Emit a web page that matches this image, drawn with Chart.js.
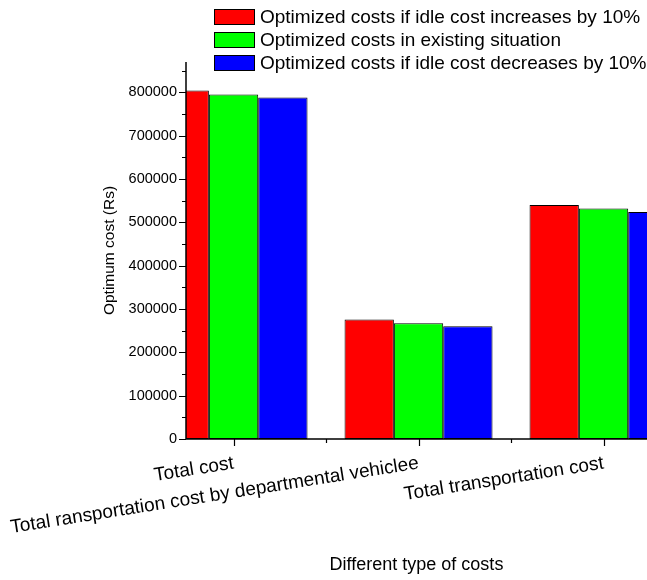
<!DOCTYPE html>
<html>
<head>
<meta charset="utf-8">
<script src="https://cdn.jsdelivr.net/npm/chart.js@4.4.1/dist/chart.umd.min.js"></script>
<style>
  html, body { margin: 0; padding: 0; background: #fff; overflow: hidden; }
  canvas { display: block; }
</style>
</head>
<body>
<canvas id="myChart" width="647" height="580"></canvas>
<script>
// setup block
const categories = [
  "Total cost",
  "Total ransportation cost by departmental vehiclee",
  "Total transportation cost",
];
const idleUp = [804000, 276000, 540000];
const existing = [795000, 267000, 532000];
const idleDown = [788000, 260000, 524000];
const seriesLabels = [
  "Optimized costs if idle cost increases by 10%",
  "Optimized costs in existing situation",
  "Optimized costs if idle cost decreases by 10%",
];
const seriesColors = ["#ff0000", "#00ff00", "#0000ff"];
const yTickValues = [0, 100000, 200000, 300000, 400000, 500000, 600000, 700000, 800000];
const yMax = 870000;
const yStep = 100000;

Chart.defaults.font.family = "Arial, 'Liberation Sans', sans-serif";
Chart.defaults.color = "#000";

const toPoints = (values) => values.map((v, i) => ({ x: i, y: v }));

const data = {
  datasets: [idleUp, existing, idleDown].map((values, i) => ({
    label: seriesLabels[i],
    data: toPoints(values),
    backgroundColor: seriesColors[i],
    borderColor: "#000",
    borderWidth: 1,
    borderSkipped: false,
    categoryPercentage: 0.8,
    barPercentage: 1.0,
    clip: 0,
  })),
};

// axis lines + major/minor tick marks (outward)
const axisMarks = {
  id: "axisMarks",
  afterDatasetsDraw(chart) {
    const { ctx, scales: { x, y } } = chart;
    ctx.save();
    ctx.strokeStyle = "#000";
    ctx.lineWidth = 1.5;
    ctx.beginPath();
    ctx.moveTo(x.left, y.top);
    ctx.lineTo(x.left, y.bottom);
    ctx.lineTo(x.right, y.bottom);
    ctx.stroke();

    ctx.lineWidth = 1.2;
    ctx.beginPath();
    for (let v = 0; v <= y.max; v += yStep / 2) {
      const py = Math.round(y.getPixelForValue(v)) + 0.5;
      const len = v % yStep === 0 ? 7 : 4;
      ctx.moveTo(x.left, py);
      ctx.lineTo(x.left - len, py);
    }
    for (let v = Math.max(0, Math.ceil(x.min * 2) / 2); v <= x.max; v += 0.5) {
      const px = Math.round(x.getPixelForValue(v)) + 0.5;
      const len = Number.isInteger(v) ? 7 : 4;
      ctx.moveTo(px, y.bottom);
      ctx.lineTo(px, y.bottom + len);
    }
    ctx.stroke();
    ctx.restore();
  },
};

// boxed legend in the top right corner
const boxLegend = {
  id: "boxLegend",
  afterDraw(chart) {
    const ctx = chart.ctx;
    ctx.save();
    ctx.font = "19px Arial, 'Liberation Sans', sans-serif";
    ctx.textBaseline = "middle";
    chart.data.datasets.forEach((ds, i) => {
      const cy = 16.5 + i * 23;
      ctx.fillStyle = ds.backgroundColor;
      ctx.fillRect(214, cy - 7.5, 41, 15);
      ctx.strokeStyle = "#000";
      ctx.lineWidth = 1;
      ctx.strokeRect(214.5, cy - 7, 40, 15);
      ctx.fillStyle = "#000";
      ctx.fillText(ds.label, 260, cy + 1);
    });
    ctx.restore();
  },
};

// config block
const config = {
  type: "bar",
  data: data,
  options: {
    responsive: false,
    animation: false,
    devicePixelRatio: 1,
    layout: { padding: { top: 62, left: 0, right: 0, bottom: 0 } },
    plugins: {
      legend: { display: false },
      tooltip: { enabled: false },
    },
    scales: {
      x: {
        type: "linear",
        min: -0.257,
        max: 2.235,
        offset: false,
        afterBuildTicks: (scale) => {
          scale.ticks = categories.map((_, i) => ({ value: i }));
        },
        afterFit: (scale) => {
          scale.height = 141;
        },
        grid: { display: false, drawTicks: false, offset: false },
        border: { display: false },
        ticks: {
          autoSkip: false,
          minRotation: 9,
          maxRotation: 9,
          padding: 13,
          font: { size: 19 },
          callback: (v) => categories[v],
        },
        title: {
          display: true,
          text: "Different type of costs",
          font: { size: 18 },
          padding: { top: 0, bottom: 4 },
        },
      },
      y: {
        min: 0,
        max: yMax,
        afterBuildTicks: (scale) => {
          scale.ticks = yTickValues.map((v) => ({ value: v }));
        },
        afterFit: (scale) => {
          scale.width = 186;
        },
        grid: { display: false, drawTicks: false },
        border: { display: false },
        ticks: {
          padding: 9,
          font: { size: 14.5 },
          callback: (v) => String(v),
        },
        title: {
          display: true,
          text: "Optimum cost (Rs)",
          font: { size: 15.5 },
          padding: { top: 100, bottom: 0 },
        },
      },
    },
  },
  plugins: [axisMarks, boxLegend],
};

// render init block
const myChart = new Chart(document.getElementById("myChart"), config);
</script>
</body>
</html>
